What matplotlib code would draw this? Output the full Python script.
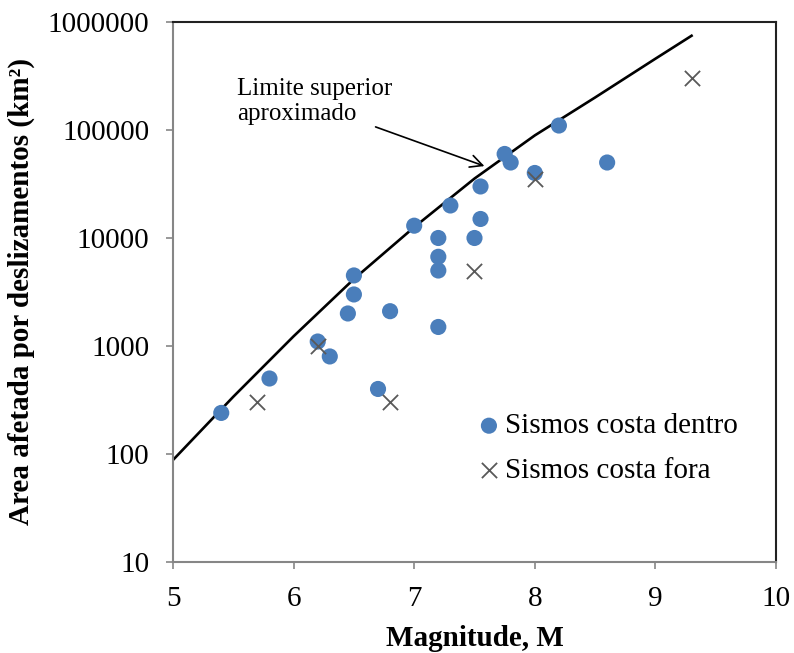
import matplotlib.pyplot as plt
from matplotlib.ticker import FixedLocator, NullLocator

plt.rcParams['font.family'] = ['Liberation Serif', 'DejaVu Serif']

# Sismos costa dentro (onshore)
mag_dentro = [5.4, 5.8, 6.2, 6.3, 6.45, 6.5, 6.5, 6.7, 6.8, 7.0, 7.2, 7.2, 7.2, 7.2,
              7.3, 7.5, 7.55, 7.55, 7.75, 7.8, 8.0, 8.2, 8.6]
area_dentro = [240, 500, 1100, 800, 2000, 3000, 4500, 400, 2100, 13000, 10000, 6700, 5000, 1500,
               20000, 10000, 15000, 30000, 60000, 50000, 40000, 110000, 50000]

# Sismos costa fora (offshore)
mag_fora = [5.7, 6.2, 6.8, 7.5, 8.0, 9.3]
area_fora = [300, 1000, 300, 5000, 35000, 300000]

# Limite superior aproximado
mag_limite = [5.0, 5.5, 6.0, 6.5, 7.0, 7.5, 8.0, 8.5, 9.0, 9.3]
area_limite = [88, 339, 1230, 4170, 12600, 35500, 89100, 200000, 457000, 746000]

y_ticks = [10, 100, 1000, 10000, 100000, 1000000]
x_ticks = [5, 6, 7, 8, 9, 10]

fig = plt.figure(figsize=(7.94, 6.53), dpi=100)
ax = fig.add_axes([0.2179, 0.1394, 0.9773 - 0.2179, 0.9663 - 0.1394])

ax.plot(mag_limite, area_limite, color='black', lw=1.9, zorder=2)
ax.scatter(mag_dentro, area_dentro, s=135, color='#4a7ebb', edgecolors='none',
           zorder=3, label='Sismos costa dentro')
ax.scatter(mag_fora, area_fora, s=120, marker='x', color='#595959', linewidths=1.3,
           zorder=4, label='Sismos costa fora')

ax.set_yscale('log')
ax.set_xlim(5, 10)
ax.set_ylim(10, 1000000)
ax.xaxis.set_major_locator(FixedLocator(x_ticks))
ax.set_xticklabels([str(t) for t in x_ticks])
ax.yaxis.set_major_locator(FixedLocator(y_ticks))
ax.yaxis.set_minor_locator(NullLocator())
ax.set_yticklabels([str(t) for t in y_ticks])

ax.tick_params(axis='both', labelsize=21, direction='out', length=5, width=1.2,
               color='#868686', labelcolor='black')
ax.tick_params(axis='y', pad=12)
ax.tick_params(axis='x', pad=12)

for side in ['left', 'bottom']:
    ax.spines[side].set_color('#868686')
    ax.spines[side].set_linewidth(1.5)
for side in ['top', 'right']:
    ax.spines[side].set_color('#222222')
    ax.spines[side].set_linewidth(1.5)

ax.set_xlabel('Magnitude, M', fontsize=21, fontweight='bold', labelpad=10)
ax.set_ylabel('Area afetada por deslizamentos (km²)', fontsize=21,
              fontweight='bold', labelpad=9)

ax.text(5.53, 300000, 'Limite superior\naproximado', fontsize=18, va='top', ha='left',
        linespacing=1.15)
ax.annotate('', xy=(7.604, 45400), xytext=(6.658, 109000),
            arrowprops=dict(arrowstyle='->', color='black', lw=1.2, mutation_scale=22))

ax.legend(loc='upper left', bbox_to_anchor=(0.4925, 0.276), frameon=False, fontsize=21,
          handletextpad=-0.1, handlelength=1.3, labelspacing=0.62, borderpad=0,
          borderaxespad=0)

fig.savefig('out.png', dpi=100)
